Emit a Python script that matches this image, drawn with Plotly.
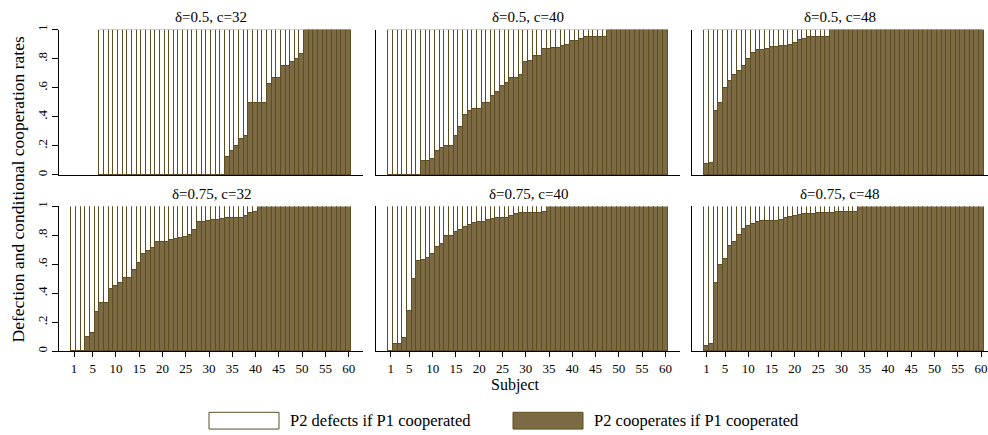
import plotly.graph_objects as go

# ---------------- data ----------------
subjects = list(range(1, 61))

panel_titles = ["δ=0.5, c=32", "δ=0.5, c=40", "δ=0.5, c=48",
                "δ=0.75, c=32", "δ=0.75, c=40", "δ=0.75, c=48"]

# share of "P2 cooperates if P1 cooperated" per subject (sorted); None = no observation
coop_d05_c32 = [None, None, None, None, None, None,
                0, 0, 0, 0, 0, 0, 0, 0, 0, 0, 0, 0, 0, 0, 0, 0, 0, 0, 0, 0, 0, 0, 0, 0, 0, 0, 0,
                .125, .167, .2, .25, .273, .5, .5, .5, .5, .625, .667, .667, .75, .75, .778, .8, .833,
                1, 1, 1, 1, 1, 1, 1, 1, 1, 1]
coop_d05_c40 = [0, 0, 0, 0, 0, 0, 0,
                .1, .1, .111, .167, .19, .2, .2, .273, .333, .414, .444, .455, .455, .5, .5,
                .548, .575, .615, .636, .667, .667, .692, .778, .786, .818, .818, .867, .867,
                .875, .875, .889, .9, .923, .923, .941, .95, .95, .95, .95, .95,
                1, 1, 1, 1, 1, 1, 1, 1, 1, 1, 1, 1, 1]
coop_d05_c48 = [.077, .083, .442, .5, .6, .65, .69, .72, .75, .8, .84, .862, .864, .866,
                .88, .882, .889, .891, .9, .91, .93, .94, .955, .955, .955, .955, .955,
                1, 1, 1, 1, 1, 1, 1, 1, 1, 1, 1, 1, 1, 1, 1, 1, 1, 1, 1, 1, 1, 1, 1,
                1, 1, 1, 1, 1, 1, 1, 1, 1, 1]
coop_d075_c32 = [0, 0, 0, .093, .125, .264, .333, .333, .425, .445, .468, .5, .5, .56, .605,
                 .667, .689, .711, .75, .75, .75, .764, .773, .78, .789, .8, .833, .886, .891,
                 .895, .9, .905, .909, .917, .917, .917, .917, .929, .955, .96,
                 1, 1, 1, 1, 1, 1, 1, 1, 1, 1, 1, 1, 1, 1, 1, 1, 1, 1, 1, 1]
coop_d075_c40 = [0, .048, .048, .086, .275, .495, .62, .627, .643, .667, .716, .734, .795, .795,
                 .818, .836, .855, .87, .882, .886, .886, .9, .909, .916, .92, .92, .934, .945,
                 .955, .955, .955, .955, .955, .961,
                 1, 1, 1, 1, 1, 1, 1, 1, 1, 1, 1, 1, 1, 1, 1, 1, 1, 1, 1, 1, 1, 1, 1, 1, 1, 1]
coop_d075_c48 = [.034, .048, .468, .591, .632, .727, .75, .802, .843, .859, .877, .886, .893,
                 .893, .893, .893, .905, .916, .923, .934, .939, .945, .945, .945, .95, .95,
                 .955, .955, .961, .961, .961, .961, .961,
                 1, 1, 1, 1, 1, 1, 1, 1, 1, 1, 1, 1, 1, 1, 1, 1, 1, 1, 1, 1, 1, 1, 1, 1, 1, 1, 1]

panels_coop = [coop_d05_c32, coop_d05_c40, coop_d05_c48,
               coop_d075_c32, coop_d075_c40, coop_d075_c48]

x_tick_vals = [1, 5, 10, 15, 20, 25, 30, 35, 40, 45, 50, 55, 60]
y_tick_vals = [0, .2, .4, .6, .8, 1]
y_tick_text = ["0", ".2", ".4", ".6", ".8", "1"]
legend_labels = ["P2 defects if P1 cooperated", "P2 cooperates if P1 cooperated"]
x_title = "Subject"
y_title = "Defection and conditional cooperation rates"

# ---------------- style / layout ----------------
W, H = 988, 435
FONT = "Liberation Serif, Times New Roman, serif"
BROWN = "#7c6a44"
EDGE = "#5f4d22"

col_px = [(59.3, 363.0), (376.0, 680.0), (691.7, 988.0)]
row_px = [(25.0, 172.3), (204.3, 351.0)]
x_ranges = [[-2.164, 63.08], [-2.164, 63.14], [-2.164, 61.49]]

fig = go.Figure()
layout = dict(
    width=W, height=H, margin=dict(l=0, r=0, t=0, b=0),
    paper_bgcolor="white", plot_bgcolor="white",
    barmode="stack", bargap=0, showlegend=False,
    font=dict(family=FONT, size=12, color="black"),
)
annotations = []
shapes = []

for i, coop in enumerate(panels_coop):
    r, c = divmod(i, 3)
    ax = "" if i == 0 else str(i + 1)
    defect = [None if v is None else round(1 - v, 4) for v in coop]
    fig.add_trace(go.Bar(x=subjects, y=coop, width=1, xaxis="x" + ax, yaxis="y" + ax,
                         name=legend_labels[1],
                         marker=dict(color=BROWN, line=dict(color=EDGE, width=1))))
    fig.add_trace(go.Bar(x=subjects, y=defect, width=1, xaxis="x" + ax, yaxis="y" + ax,
                         name=legend_labels[0],
                         marker=dict(color="white", line=dict(color=EDGE, width=1))))
    x0, x1 = col_px[c]
    y0, y1 = row_px[r]
    xa = dict(domain=[x0 / W, x1 / W], range=x_ranges[c], anchor="y" + ax,
              showgrid=False, zeroline=False, showline=True, linecolor="black", linewidth=1,
              tickvals=x_tick_vals, fixedrange=True)
    if r == 1:
        xa.update(ticks="outside", ticklen=5, tickcolor="black", showticklabels=True,
                  tickfont=dict(family=FONT, size=13))
    else:
        xa.update(ticks="", showticklabels=False)
    ya = dict(domain=[1 - y1 / H, 1 - y0 / H], range=[0, 1], anchor="x" + ax,
              showgrid=False, zeroline=False, showline=True, linecolor="black", linewidth=1,
              tickvals=y_tick_vals, ticktext=y_tick_text, fixedrange=True)
    if c == 0:
        ya.update(ticks="outside", ticklen=6, tickcolor="black", showticklabels=True,
                  tickangle=-90, tickfont=dict(family=FONT, size=13))
    else:
        ya.update(ticks="", showticklabels=False)
    layout["xaxis" + ax] = xa
    layout["yaxis" + ax] = ya
    title_y = [12.5, 192.0][r]
    annotations.append(dict(text=panel_titles[i], x=(x0 + min(x1, 996)) / 2 / W,
                            y=1 - title_y / H, xref="paper", yref="paper",
                            xanchor="center", yanchor="middle", showarrow=False,
                            font=dict(family=FONT, size=15)))

# axis titles
annotations.append(dict(text=x_title, x=515 / W, y=1 - 385.5 / H, xref="paper", yref="paper",
                        xanchor="center", yanchor="middle", showarrow=False,
                        font=dict(family=FONT, size=16)))
annotations.append(dict(text=y_title, x=18 / W, y=1 - 187 / H, xref="paper", yref="paper",
                        xanchor="center", yanchor="middle", showarrow=False, textangle=-90,
                        font=dict(family=FONT, size=17.5)))

# legend (drawn as swatches + text)
legend_items = [(209, 279, "white", legend_labels[0]), (513, 583, BROWN, legend_labels[1])]
for lx0, lx1, col, lab in legend_items:
    shapes.append(dict(type="rect", xref="paper", yref="paper",
                       x0=lx0 / W, x1=lx1 / W, y0=1 - 430 / H, y1=1 - 413 / H,
                       fillcolor=col, line=dict(color=EDGE, width=1)))
    annotations.append(dict(text=lab, x=(lx1 + 9) / W, y=1 - 421.5 / H, xref="paper",
                            yref="paper", xanchor="left", yanchor="middle", showarrow=False,
                            font=dict(family=FONT, size=16.5)))

layout["annotations"] = annotations
layout["shapes"] = shapes
fig.update_layout(**layout)
fig.write_html("out.html", config={"displayModeBar": False},
               post_script="document.body.style.margin='0';document.body.style.overflow='hidden';")
